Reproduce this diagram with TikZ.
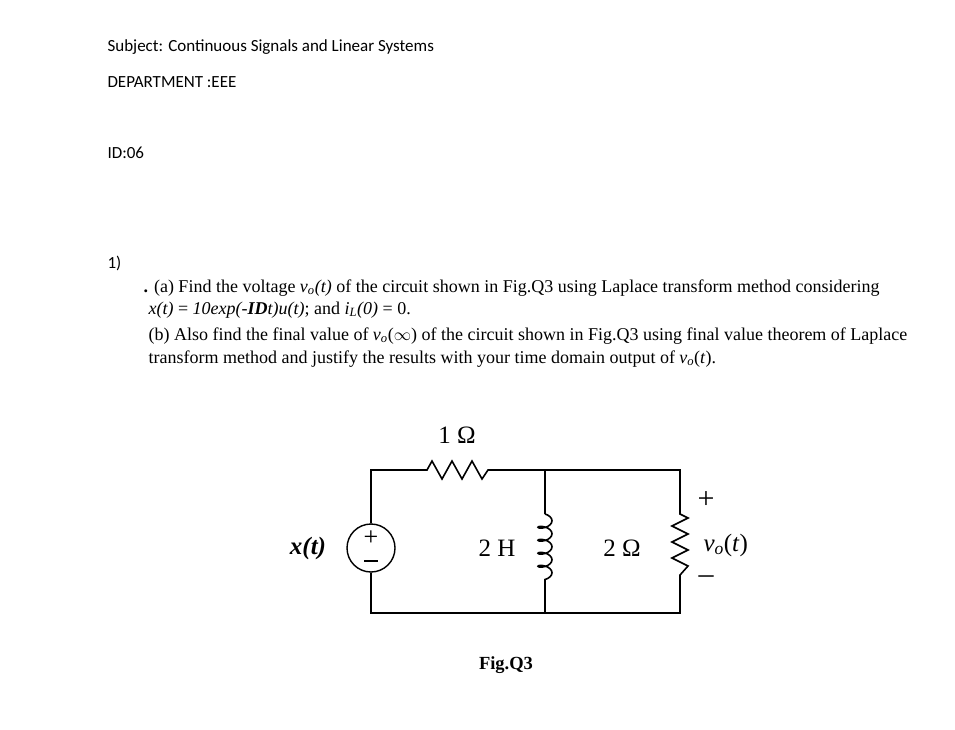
\documentclass[tikz,border=0pt]{standalone}
\usepackage{fontspec}
\setmainfont{Liberation Serif}
\newfontfamily\calib{Carlito}
\usetikzlibrary{decorations.pathmorphing}
\begin{document}
\begin{tikzpicture}[x=1pt,y=-1pt,
  hdr/.style={anchor=west,font=\calib\fontsize{17}{20}\selectfont},
  qtxt/.style={anchor=west,font=\fontsize{18}{21}\selectfont},
  lbl/.style={font=\fontsize{25}{28}\selectfont},
  sgn/.style={font=\fontsize{30}{30}\selectfont},
  wire/.style={line width=1.6pt},
  coil/.style={wire,decorate,decoration={coil,aspect=0.5,segment length=13pt,amplitude=7pt}}]
\useasboundingbox (0,0) rectangle (955,729);
\fill[white] (0,0) rectangle (955,729);
\node[hdr] (subj) at (104,47) {Subject: Continuous Signals and Linear Systems};
\node[hdr] (dept) at (104,82) {DEPARTMENT :EEE};
\node[hdr] (id) at (104,153) {ID:06};
\node[hdr] (one) at (104,263) {1)};
\node[qtxt] (l1) at (140,288) {\textbf{.} (a) Find the voltage \textit{v\textsubscript{o}(t)} of the circuit shown in Fig.Q3 using Laplace transform method considering};
\node[qtxt] (l2) at (145,310) {\textit{x(t)} = \textit{10exp(-\textbf{ID}t)u(t)}; and \textit{i\textsubscript{L}(0)} = 0.};
\node[qtxt] (l3) at (145,336) {(b) Also find the final value of \textit{v\textsubscript{o}}($\infty$) of the circuit shown in Fig.Q3 using final value theorem of Laplace};
\node[qtxt] (l4) at (145,359) {transform method and justify the results with your time domain output of \textit{v\textsubscript{o}}(\textit{t}).};
% circuit
\coordinate (tl) at (371,470);
\coordinate (bl) at (371,613);
\coordinate (ra) at (427,470);
\coordinate (rb) at (488,470);
\coordinate (jt) at (545,470);
\coordinate (jb) at (545,613);
\coordinate (rt) at (680,470);
\coordinate (rbt) at (680,613);
\node[draw,circle,line width=1.4pt,minimum size=48pt,inner sep=0pt] (src) at (371,548) {};
\node[font=\fontsize{26}{26}\selectfont] (plus) at (371,538) {+};
\draw[line width=1.4pt] (364,561) -- (378,561);
\draw[wire] (src.north) -- (tl) -- (ra)
  -- ++(5,-9) -- ++(10,18) -- ++(10,-18) -- ++(10,18) -- ++(10,-18) -- ++(10,18) -- (rb)
  -- (jt) -- (rt) -- (680,514)
  -- ++(8,4) -- ++(-16,8) -- ++(16,8) -- ++(-16,8) -- ++(16,8) -- ++(-16,8) -- ++(16,8) -- (680,575)
  -- (rbt) -- (bl) -- (src.south);
\draw[wire] (jt) -- (545,514);
\draw[coil] (545,514) -- (545,581);
\draw[wire] (545,581) -- (jb);
\node[lbl] (r1) at (457,435) {1 Ω};
\node[font=\fontsize{25}{28}\selectfont\bfseries] (xt) at (308,548) {\textit{x(t)}};
\node[lbl] (ind) at (497,548) {2 H};
\node[lbl] (r2) at (622,548) {2 Ω};
\node[sgn] (vp) at (706,500) {+};
\node[lbl,anchor=west] (vo) at (700,545) {\textit{v\textsubscript{o}}(\textit{t})};
\node[sgn] (vm) at (706,580) {--};
\node[font=\fontsize{18.5}{20}\selectfont\bfseries] (fig) at (506,665) {Fig.Q3};
\end{tikzpicture}
\end{document}
